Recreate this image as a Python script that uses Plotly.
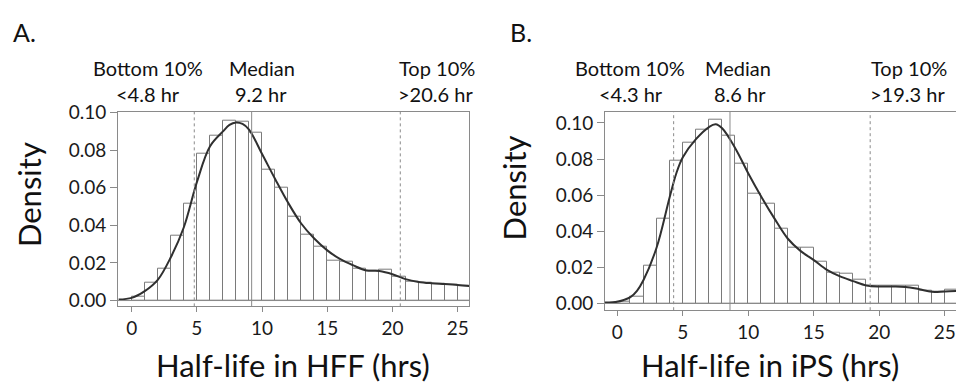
import plotly.graph_objects as go

# ---------------- data ----------------
bin_left = list(range(0, 26))  # bins of width 1 from 0 to 26

hff_density = [0.0022, 0.0094, 0.017, 0.0346, 0.0514, 0.078, 0.0877, 0.0959, 0.0954, 0.0894,
               0.0698, 0.060, 0.0448, 0.0353, 0.0284, 0.0213, 0.0208, 0.0167, 0.0157, 0.0162,
               0.0128, 0.0102, 0.0094, 0.0089, 0.0085, 0.0077]
ips_density = [0.001, 0.004, 0.021, 0.047, 0.079, 0.089, 0.0965, 0.102, 0.093, 0.0775,
               0.0607, 0.055, 0.0416, 0.031, 0.031, 0.023, 0.0172, 0.0165, 0.0133, 0.0097,
               0.010, 0.010, 0.0097, 0.007, 0.0067, 0.0074]

hff_kde_x = [-1, 0, 1, 2, 3, 4, 5, 6, 7, 7.5, 8, 8.5, 9, 10, 11, 12, 13, 14, 15, 16, 17, 18,
             19, 20, 21, 22, 23, 24, 25, 26]
hff_kde_y = [0.0005, 0.0014, 0.005, 0.011, 0.023, 0.039, 0.063, 0.082, 0.090, 0.0935, 0.0948,
             0.0940, 0.091, 0.078, 0.0647, 0.052, 0.041, 0.033, 0.0267, 0.022, 0.0187, 0.016,
             0.0157, 0.014, 0.0114, 0.0099, 0.0092, 0.0088, 0.0083, 0.0076]

ips_kde_x = [-1, 0, 0.5, 1, 1.5, 2, 3, 4, 4.5, 5, 6, 7, 7.5, 8, 9, 10, 11, 12, 13, 14, 15, 16,
             17, 18, 19, 20, 21, 22, 23, 24, 25, 26]
ips_kde_y = [0.0005, 0.001, 0.002, 0.0035, 0.007, 0.013, 0.031, 0.059, 0.072, 0.081, 0.091,
             0.0977, 0.0992, 0.097, 0.086, 0.072, 0.059, 0.047, 0.036, 0.029, 0.024, 0.0186,
             0.015, 0.0124, 0.010, 0.0094, 0.0094, 0.0092, 0.008, 0.0065, 0.0067, 0.007]

hff_marks = {"bottom": 4.8, "median": 9.2, "top": 20.6}
ips_marks = {"bottom": 4.3, "median": 8.6, "top": 19.3}

x_ticks = [0, 5, 10, 15, 20, 25]
y_ticks = [0.00, 0.02, 0.04, 0.06, 0.08, 0.10]

# ---------------- figure ----------------
W, H = 956, 390
FONT = "Lato, Carlito, 'Open Sans', sans-serif"
GRAY = "#8a8a8a"
BAR_LINE = "#7a7a7a"
CURVE = "#303030"

def px(x):
    return x / W

def py(y):
    return 1 - y / H

fig = go.Figure()

bin_centers = [b + 0.5 for b in bin_left]

for dens, kx, ky, xa, ya in [
    (hff_density, hff_kde_x, hff_kde_y, "x", "y"),
    (ips_density, ips_kde_x, ips_kde_y, "x2", "y2"),
]:
    fig.add_trace(go.Bar(x=bin_centers, y=dens, width=1, xaxis=xa, yaxis=ya,
                         marker=dict(color="white", line=dict(color=BAR_LINE, width=1)),
                         showlegend=False, hoverinfo="skip"))
    fig.add_trace(go.Scatter(x=kx, y=ky, mode="lines", xaxis=xa, yaxis=ya,
                             line=dict(color=CURVE, width=2, shape="spline", smoothing=1.0),
                             showlegend=False, hoverinfo="skip"))

common_x = dict(tickmode="array", tickvals=x_ticks, ticks="outside", ticklen=5,
                tickcolor=GRAY, showgrid=False, zeroline=False, showline=True,
                linecolor=GRAY, linewidth=1,
                tickfont=dict(family=FONT, size=19, color="#1a1a1a"))
common_y = dict(tickmode="array", tickvals=y_ticks, tickformat=".2f", ticks="outside",
                ticklen=7, tickcolor=GRAY, showgrid=False, zeroline=False, showline=True,
                linecolor=GRAY, linewidth=1,
                tickfont=dict(family=FONT, size=19, color="#1a1a1a"))

fig.update_layout(
    width=W, height=H, margin=dict(l=0, r=0, t=0, b=0),
    paper_bgcolor="white", plot_bgcolor="white", bargap=0,
    xaxis=dict(domain=[px(118), px(469)], range=[-1.05, 25.87], anchor="y",
               mirror=True, **common_x),
    yaxis=dict(domain=[py(308), py(105)], range=[-0.0031, 0.1005], anchor="x",
               mirror=True, **common_y),
    xaxis2=dict(domain=[px(605), 1.0], range=[-0.94, 25.85], anchor="y2",
                mirror=True, **common_x),
    yaxis2=dict(domain=[py(312), py(105)], range=[-0.0037, 0.1062], anchor="x2",
                mirror=False, **common_y),
)

shapes = []
for xa, ya, marks in [("x", "y", hff_marks), ("x2", "y2", ips_marks)]:
    shapes.append(dict(type="line", xref=f"{xa} domain", yref=ya, x0=0, x1=1, y0=0, y1=0,
                       line=dict(color=GRAY, width=1)))
    for key in ["bottom", "median", "top"]:
        shapes.append(dict(type="line", xref=xa, yref=f"{ya} domain",
                           x0=marks[key], x1=marks[key], y0=0, y1=1,
                           line=dict(color=GRAY, width=1,
                                     dash="solid" if key == "median" else "dot")))
fig.update_layout(shapes=shapes)

ann = []
def text(x, y, s, size=20, anchor="center"):
    ann.append(dict(xref="paper", yref="paper", x=px(x), y=py(y), text=s, showarrow=False,
                    xanchor=anchor, yanchor="middle",
                    font=dict(family=FONT, size=size, color="#111")))

# panel labels
text(11, 22, "A.", size=25, anchor="left")
text(508, 22, "B.", size=25, anchor="left")

# left annotations
text(148, 59, "Bottom 10%")
text(148, 87, "&lt;4.8 hr")
text(262, 59, "Median")
text(261, 87, "9.2 hr")
text(437, 59, "Top 10%")
text(435, 87, "&gt;20.6 hr")
# right annotations
text(630, 59, "Bottom 10%")
text(631, 87, "&lt;4.3 hr")
text(738, 59, "Median")
text(740, 87, "8.6 hr")
text(909, 59, "Top 10%")
text(907, 87, "&gt;19.3 hr")

# axis titles
text(293, 369, "Half-life in HFF (hrs)", size=31)
text(770, 369, "Half-life in iPS (hrs)", size=31)
ann.append(dict(xref="paper", yref="paper", x=px(29), y=py(192), text="Density",
                showarrow=False, textangle=-90, xanchor="center", yanchor="middle",
                font=dict(family=FONT, size=31, color="#111")))
ann.append(dict(xref="paper", yref="paper", x=px(514), y=py(185), text="Density",
                showarrow=False, textangle=-90, xanchor="center", yanchor="middle",
                font=dict(family=FONT, size=31, color="#111")))
fig.update_layout(annotations=ann)

fig.write_html("out.html", config={"displayModeBar": False},
               post_script="document.body.style.margin='0px';document.body.style.overflow='hidden';")
